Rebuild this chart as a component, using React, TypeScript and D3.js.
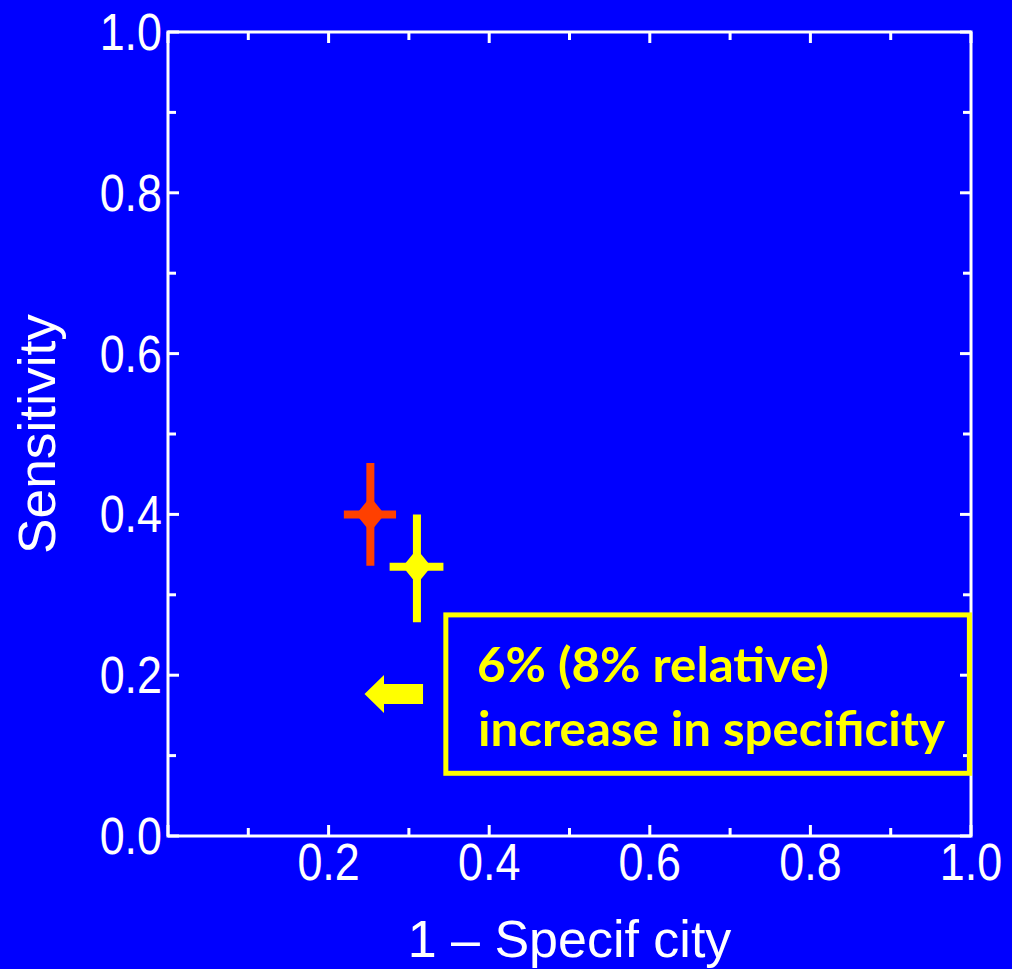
import React from "react";
import * as d3 from "d3";

const W = 1012;
const H = 969;

// Data
const seriesNames = ["previous", "new"];
const seriesColors = ["#FF4000", "#FFFF00"];
const xVals = [0.252, 0.31];
const yVals = [0.4, 0.335];
const xLo = [0.219, 0.276];
const xHi = [0.284, 0.343];
const yLo = [0.336, 0.266];
const yHi = [0.464, 0.4];

const xTickLabels = ["0.2", "0.4", "0.6", "0.8", "1.0"];
const yTickLabels = ["0.0", "0.2", "0.4", "0.6", "0.8", "1.0"];
const annotationLines = ["6% (8% relative)", "increase in specificity"];

const BG = "#0000FF";
const FG = "#FFFFFF";
const YEL = "#FFFF00";

function diamondPath(cx: number, cy: number, hw: number, hh: number) {
  const p = d3.path();
  p.moveTo(cx, cy - hh);
  p.lineTo(cx + hw, cy);
  p.lineTo(cx, cy + hh);
  p.lineTo(cx - hw, cy);
  p.closePath();
  return p.toString();
}

export default function App() {
  const x = d3.scaleLinear().domain([0, 1]).range([168, 971]);
  const y = d3.scaleLinear().domain([0, 1]).range([836, 32]);
  const ticks = d3.range(0, 11).map((i) => i / 10);
  const tickFont = "'Liberation Sans', Arial, sans-serif";

  // annotation geometry in data units
  const boxX0 = 0.346, boxX1 = 0.998, boxY0 = 0.078, boxY1 = 0.275;
  const arrowTip = 0.2447, arrowNeck = 0.269, arrowTail = 0.3176, arrowY = 0.1766;

  const ax = (v: number) => x(v);
  const ay = (v: number) => y(v);
  const arrowPath = d3.path();
  arrowPath.moveTo(ax(arrowTip), ay(arrowY));
  arrowPath.lineTo(ax(arrowNeck), ay(arrowY) - 19);
  arrowPath.lineTo(ax(arrowNeck), ay(arrowY) - 10);
  arrowPath.lineTo(ax(arrowTail), ay(arrowY) - 10);
  arrowPath.lineTo(ax(arrowTail), ay(arrowY) + 10);
  arrowPath.lineTo(ax(arrowNeck), ay(arrowY) + 10);
  arrowPath.lineTo(ax(arrowNeck), ay(arrowY) + 19);
  arrowPath.closePath();

  return (
    <svg
      width={W}
      height={H}
      style={{ position: "absolute", left: 0, top: 0, display: "block" }}
    >
      <rect x={0} y={0} width={W} height={H} fill={BG} />
      {/* frame */}
      <rect
        x={x(0)}
        y={y(1)}
        width={x(1) - x(0)}
        height={y(0) - y(1)}
        fill="none"
        stroke={FG}
        strokeWidth={3}
      />
      {/* ticks */}
      {ticks.map((t, i) => {
        const len = i % 2 === 0 ? 11 : 8;
        return (
          <g key={"t" + i} stroke={FG} strokeWidth={3}>
            <line x1={x(t)} x2={x(t)} y1={y(0)} y2={y(0) - len} />
            <line x1={x(t)} x2={x(t)} y1={y(1)} y2={y(1) + len} />
            <line x1={x(0)} x2={x(0) + len} y1={y(t)} y2={y(t)} />
            <line x1={x(1)} x2={x(1) - len} y1={y(t)} y2={y(t)} />
          </g>
        );
      })}
      {/* y tick labels */}
      {yTickLabels.map((lab) => (
        <text
          key={"yl" + lab}
          transform={`translate(${x(0) - 6},${y(+lab) + 18}) scale(0.88,1)`}
          textAnchor="end"
          fill={FG}
          fontFamily={tickFont}
          fontSize={51}
        >
          {lab}
        </text>
      ))}
      {/* x tick labels */}
      {xTickLabels.map((lab) => (
        <text
          key={"xl" + lab}
          transform={`translate(${x(+lab)},${y(0) + 44}) scale(0.88,1)`}
          textAnchor="middle"
          fill={FG}
          fontFamily={tickFont}
          fontSize={51}
        >
          {lab}
        </text>
      ))}
      {/* axis titles */}
      <text
        x={(x(0) + x(1)) / 2}
        y={957}
        textAnchor="middle"
        fill={FG}
        fontFamily={tickFont}
        fontSize={52}
      >
        1 – Specif city
      </text>
      <text
        transform={`translate(55,${(y(0) + y(1)) / 2}) rotate(-90)`}
        textAnchor="middle"
        fill={FG}
        fontFamily={tickFont}
        fontSize={52}
        textLength={240}
        lengthAdjust="spacingAndGlyphs"
      >
        Sensitivity
      </text>
      {/* points with error bars */}
      {seriesNames.map((s, i) => (
        <g key={s} fill={seriesColors[i]} stroke={seriesColors[i]}>
          <line
            x1={x(xVals[i])}
            x2={x(xVals[i])}
            y1={y(yLo[i])}
            y2={y(yHi[i])}
            strokeWidth={8}
          />
          <line
            x1={x(xLo[i])}
            x2={x(xHi[i])}
            y1={y(yVals[i])}
            y2={y(yVals[i])}
            strokeWidth={8}
          />
          <path
            d={diamondPath(x(xVals[i]), y(yVals[i]), 13, 16)}
            stroke={seriesColors[i]}
            strokeWidth={2}
            strokeLinejoin="round"
          />
        </g>
      ))}
      {/* annotation */}
      <path d={arrowPath.toString()} fill={YEL} />
      <rect
        x={x(boxX0)}
        y={y(boxY1)}
        width={x(boxX1) - x(boxX0)}
        height={y(boxY0) - y(boxY1)}
        fill="none"
        stroke={YEL}
        strokeWidth={5}
      />
      <text
        x={477}
        y={682}
        fill={YEL}
        fontFamily="Lato, 'Open Sans', sans-serif"
        fontWeight="bold"
        fontSize={48}
        textLength={352}
        lengthAdjust="spacingAndGlyphs"
      >
        {annotationLines[0]}
      </text>
      <text
        x={478}
        y={746}
        fill={YEL}
        fontFamily="Lato, 'Open Sans', sans-serif"
        fontWeight="bold"
        fontSize={48}
        textLength={467}
        lengthAdjust="spacingAndGlyphs"
      >
        {annotationLines[1]}
      </text>
    </svg>
  );
}
